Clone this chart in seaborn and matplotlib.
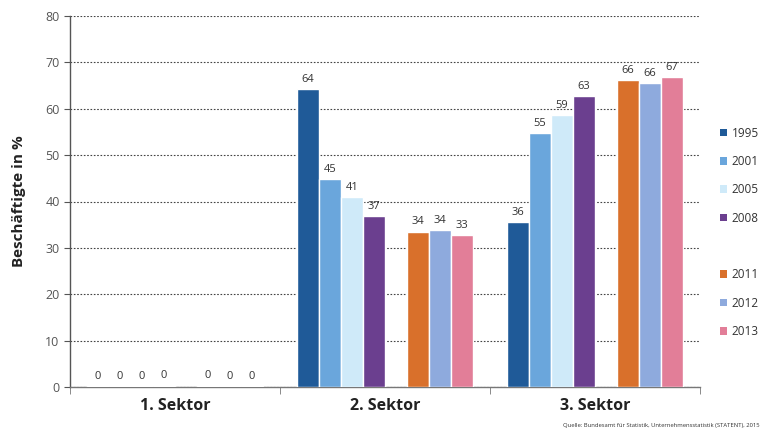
import matplotlib
matplotlib.use("Agg")
import matplotlib.pyplot as plt
from matplotlib.patches import Patch
import seaborn as sns
import pandas as pd

# Beschäftigte nach Wirtschaftssektoren, Anteile in Prozent
sectors = ["1. Sektor", "2. Sektor", "3. Sektor"]
years = ["1995", "2001", "2005", "2008", "2011", "2012", "2013"]
share_1995 = [0.2, 64.2, 35.6]
share_2001 = [0.2, 44.8, 54.7]
share_2005 = [0.2, 41.0, 58.6]
share_2008 = [0.3, 36.9, 62.7]
share_2011 = [0.3, 33.5, 66.2]
share_2012 = [0.2, 33.8, 65.6]
share_2013 = [0.2, 32.8, 66.8]
colors = ["#1f5a98", "#6aa6dc", "#cfeaf9", "#6b3f8f", "#d9702b", "#8eaadd", "#e27e98"]
yticks = [0, 10, 20, 30, 40, 50, 60, 70, 80]
source = "Quelle: Bundesamt für Statistik, Unternehmensstatistik (STATENT), 2015"

series = [share_1995, share_2001, share_2005, share_2008,
          share_2011, share_2012, share_2013]
rows = []
for year, vals in zip(years, series):
    for sec, v in zip(sectors, vals):
        rows.append({"Sektor": sec, "Jahr": year, "Anteil": v})
df = pd.DataFrame(rows)

# empty slot separating the two survey series (BZ / STATENT)
gap = " "
hue_order = years[:4] + [gap] + years[4:]
palette = dict(zip(years, colors))
palette[gap] = "#ffffff"

sns.set_style("white")
plt.rcParams["font.family"] = ["Open Sans", "DejaVu Sans"]

fig = plt.figure(figsize=(7.63, 4.32), dpi=100)
ax = fig.add_axes([70 / 763, 1 - 387 / 432, 630 / 763, 371 / 432])

sns.barplot(data=df, x="Sektor", y="Anteil", hue="Jahr", hue_order=hue_order,
            palette=palette, width=0.84, dodge=True, legend=False,
            errorbar=None, ax=ax, saturation=1.0, zorder=3)

for cont in ax.containers:
    ax.bar_label(cont, fmt="%.0f", padding=3, fontsize=8, color="#333333")

ax.set_ylim(0, 80)
ax.set_xlim(-0.5, 2.5)
ax.set_yticks(yticks)
ax.yaxis.grid(True, linestyle=(0, (1.5, 1.5)), color="#444444", linewidth=0.8, zorder=0)
ax.set_axisbelow(True)
for s in ["top", "right"]:
    ax.spines[s].set_visible(False)
ax.spines["left"].set_color("#555555")
ax.spines["bottom"].set_color("#777777")
ax.spines["left"].set_linewidth(1.0)
ax.spines["bottom"].set_linewidth(1.0)

ax.tick_params(axis="y", direction="out", length=4, color="#555555",
               labelsize=9, labelcolor="#555555", left=True)
ax.set_xticks([0, 1, 2])
ax.set_xticklabels(sectors, fontsize=11.5, fontweight="bold", color="#222222")
ax.set_xticks([-0.5, 0.5, 1.5, 2.5], minor=True)
ax.tick_params(axis="x", which="major", length=0, pad=8)
ax.tick_params(axis="x", which="minor", length=5, color="#777777", bottom=True)

ax.set_xlabel("")
ax.set_ylabel("Beschäftigte in %", fontsize=11, fontweight="bold", color="#222222", labelpad=14)

handles = []
labels = []
for lvl in hue_order:
    if lvl == gap:
        handles.append(Patch(facecolor="none", edgecolor="none"))
        labels.append("")
    else:
        handles.append(Patch(facecolor=palette[lvl], edgecolor="none"))
        labels.append(lvl)
fig.legend(handles, labels, loc="upper left", bbox_to_anchor=(709 / 763, 1 - 116 / 432),
           frameon=False, fontsize=8.5, handlelength=0.6, handleheight=0.6,
           handletextpad=0.4, labelspacing=1.3, labelcolor="#333333")

fig.text(0.995, 0.01, source, ha="right", va="bottom", fontsize=4.2, color="#333333")

fig.savefig("out.png", dpi=100)
